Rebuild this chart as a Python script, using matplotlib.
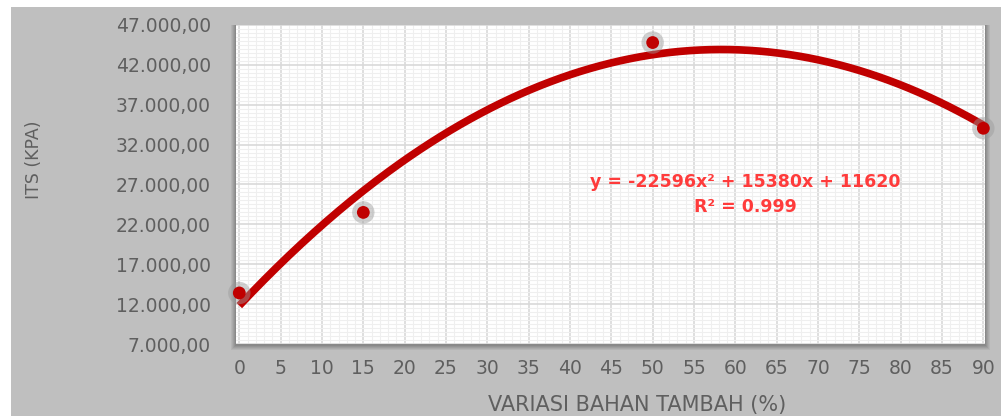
import numpy as np
import matplotlib
matplotlib.use("Agg")
import matplotlib.pyplot as plt
from matplotlib.patches import Rectangle

# ---- data ----
x_vals = [0, 15, 50, 90]                 # VARIASI BAHAN TAMBAH (%)
its_vals = [13400, 23500, 44800, 34050]  # ITS (KPA)
x_ticks = list(range(0, 95, 5))
y_ticks = list(range(7000, 47001, 5000))
equation_text = "y = -22596x\u00b2 + 15380x + 11620"
r2_text = "R\u00b2 = 0.999"

def fmt(v):
    s = f"{v:,.2f}"
    return s.replace(",", "X").replace(".", ",").replace("X", ".")

W, H = 1001, 416
fig = plt.figure(figsize=(W / 100, H / 100), dpi=100)
fig.patch.set_facecolor("white")
# gray chart area
fig.add_artist(Rectangle((11 / W, 0), 1 - 11 / W, 1 - 7 / H,
                         transform=fig.transFigure, facecolor="#bfbfbf",
                         edgecolor="none", zorder=0))

L, R, B, T = 236 / W, 985 / W, 1 - 344 / H, 1 - 25 / H
# soft shadow around plot area
for i, a in enumerate([0.10, 0.10, 0.12, 0.14, 0.16]):
    d = (5 - i)
    fig.add_artist(Rectangle(((236 - d) / W, (72 - d - 1) / H),
                             (749 + 2 * d) / W, (319 + d + 1) / H,
                             transform=fig.transFigure, facecolor="#555555",
                             edgecolor="none", alpha=a, zorder=0.5))

ax = fig.add_axes([L, B, R - L, T - B])
ax.set_zorder(2)
ax.set_facecolor("white")
ax.set_xlim(-0.4, 90.2)
ax.set_ylim(7000, 47000)

ax.set_xticks(x_ticks)
ax.set_xticks(np.arange(0, 91, 1), minor=True)
ax.set_yticks(y_ticks)
ax.set_yticks(np.arange(7000, 47001, 500), minor=True)
ax.set_yticklabels([fmt(v) for v in y_ticks])
ax.set_xticklabels([str(v) for v in x_ticks])

ax.grid(which="major", color="#d9d9d9", linewidth=1.2)
ax.grid(which="minor", color="#efefef", linewidth=0.8)
ax.set_axisbelow(True)
for s in ax.spines.values():
    s.set_visible(False)
ax.tick_params(which="both", length=0)
ax.tick_params(axis="y", pad=18, labelsize=13.5, labelcolor="#5f5f5f")
ax.tick_params(axis="x", pad=11, labelsize=13.5, labelcolor="#5f5f5f")

# trendline: polynomial fit of degree 2 through the data
coef = np.polyfit(x_vals, its_vals, 2)
xs = np.linspace(0, 90, 300)
ax.plot(xs, np.polyval(coef, xs), color="#c00000", linewidth=5.5,
        solid_capstyle="butt", zorder=3)

# markers with soft halo
ax.scatter(x_vals, its_vals, s=260, color="#9a9a9a", alpha=0.45,
           edgecolors="none", zorder=4, clip_on=False)
ax.scatter(x_vals, its_vals, s=85, color="#c00000", edgecolors="none",
           zorder=5, clip_on=False)

fig.text(745 / W, 1 - 182 / H, equation_text, ha="center", va="center",
         fontsize=12.5, color="#ff3b3b", fontweight="bold", zorder=6)
fig.text(745 / W, 1 - 207 / H, r2_text, ha="center", va="center",
         fontsize=12.5, color="#ff3b3b", fontweight="bold", zorder=6)

fig.text(34 / W, 1 - 160 / H, "ITS (KPA)", rotation=90, ha="center",
         va="center", fontsize=12.5, color="#5f5f5f")
fig.text(637 / W, 1 - 405 / H, "VARIASI BAHAN TAMBAH (%)", ha="center",
         va="center", fontsize=15, color="#5f5f5f")

fig.savefig("out.png", dpi=100)
